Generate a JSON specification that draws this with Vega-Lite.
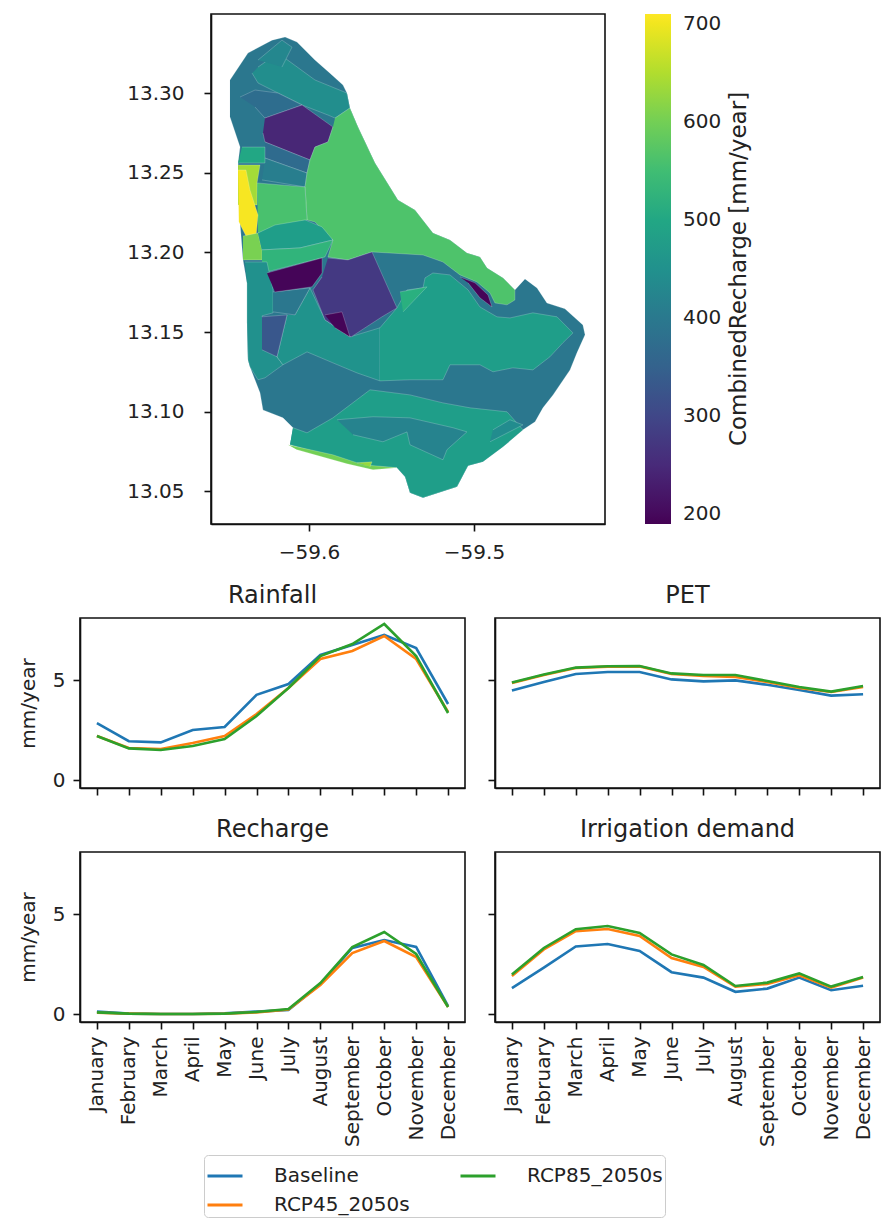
{"$schema":"https://vega.github.io/schema/vega-lite/v6.json","padding":{"left":17,"top":13,"right":0,"bottom":0},"spacing":20,"background":"white",
"config":{"font":"DejaVu Sans","view":{"stroke":"#111","strokeWidth":1.6},"axis":{"grid":false,"domainColor":"#111","domainWidth":1.6,"tickColor":"#111","tickSize":7,"tickWidth":1.6,"labelColor":"#222","titleColor":"#222","labelFontSize":20,"titleFontSize":20,"titleFontWeight":"normal","labelFont":"DejaVu Sans","titleFont":"DejaVu Sans"},"title":{"fontSize":24,"fontWeight":"normal","color":"#222","font":"DejaVu Sans","offset":10}},
"datasets":{"monthly":[
{"p":"Rainfall","s":"Baseline","m":"January","v":2.84},{"p":"Rainfall","s":"Baseline","m":"February","v":1.94},{"p":"Rainfall","s":"Baseline","m":"March","v":1.88},{"p":"Rainfall","s":"Baseline","m":"April","v":2.5},{"p":"Rainfall","s":"Baseline","m":"May","v":2.65},{"p":"Rainfall","s":"Baseline","m":"June","v":4.26},{"p":"Rainfall","s":"Baseline","m":"July","v":4.8},{"p":"Rainfall","s":"Baseline","m":"August","v":6.25},{"p":"Rainfall","s":"Baseline","m":"September","v":6.75},{"p":"Rainfall","s":"Baseline","m":"October","v":7.25},{"p":"Rainfall","s":"Baseline","m":"November","v":6.6},{"p":"Rainfall","s":"Baseline","m":"December","v":3.8},
{"p":"Rainfall","s":"RCP45_2050s","m":"January","v":2.2},{"p":"Rainfall","s":"RCP45_2050s","m":"February","v":1.6},{"p":"Rainfall","s":"RCP45_2050s","m":"March","v":1.55},{"p":"Rainfall","s":"RCP45_2050s","m":"April","v":1.85},{"p":"Rainfall","s":"RCP45_2050s","m":"May","v":2.2},{"p":"Rainfall","s":"RCP45_2050s","m":"June","v":3.3},{"p":"Rainfall","s":"RCP45_2050s","m":"July","v":4.6},{"p":"Rainfall","s":"RCP45_2050s","m":"August","v":6.05},{"p":"Rainfall","s":"RCP45_2050s","m":"September","v":6.45},{"p":"Rainfall","s":"RCP45_2050s","m":"October","v":7.2},{"p":"Rainfall","s":"RCP45_2050s","m":"November","v":6.05},{"p":"Rainfall","s":"RCP45_2050s","m":"December","v":3.4},
{"p":"Rainfall","s":"RCP85_2050s","m":"January","v":2.2},{"p":"Rainfall","s":"RCP85_2050s","m":"February","v":1.58},{"p":"Rainfall","s":"RCP85_2050s","m":"March","v":1.5},{"p":"Rainfall","s":"RCP85_2050s","m":"April","v":1.7},{"p":"Rainfall","s":"RCP85_2050s","m":"May","v":2.05},{"p":"Rainfall","s":"RCP85_2050s","m":"June","v":3.2},{"p":"Rainfall","s":"RCP85_2050s","m":"July","v":4.6},{"p":"Rainfall","s":"RCP85_2050s","m":"August","v":6.2},{"p":"Rainfall","s":"RCP85_2050s","m":"September","v":6.8},{"p":"Rainfall","s":"RCP85_2050s","m":"October","v":7.8},{"p":"Rainfall","s":"RCP85_2050s","m":"November","v":6.2},{"p":"Rainfall","s":"RCP85_2050s","m":"December","v":3.35},
{"p":"PET","s":"Baseline","m":"January","v":4.48},{"p":"PET","s":"Baseline","m":"February","v":4.9},{"p":"PET","s":"Baseline","m":"March","v":5.3},{"p":"PET","s":"Baseline","m":"April","v":5.4},{"p":"PET","s":"Baseline","m":"May","v":5.4},{"p":"PET","s":"Baseline","m":"June","v":5.03},{"p":"PET","s":"Baseline","m":"July","v":4.93},{"p":"PET","s":"Baseline","m":"August","v":4.98},{"p":"PET","s":"Baseline","m":"September","v":4.76},{"p":"PET","s":"Baseline","m":"October","v":4.5},{"p":"PET","s":"Baseline","m":"November","v":4.22},{"p":"PET","s":"Baseline","m":"December","v":4.29},
{"p":"PET","s":"RCP45_2050s","m":"January","v":4.85},{"p":"PET","s":"RCP45_2050s","m":"February","v":5.25},{"p":"PET","s":"RCP45_2050s","m":"March","v":5.6},{"p":"PET","s":"RCP45_2050s","m":"April","v":5.67},{"p":"PET","s":"RCP45_2050s","m":"May","v":5.68},{"p":"PET","s":"RCP45_2050s","m":"June","v":5.3},{"p":"PET","s":"RCP45_2050s","m":"July","v":5.2},{"p":"PET","s":"RCP45_2050s","m":"August","v":5.15},{"p":"PET","s":"RCP45_2050s","m":"September","v":4.9},{"p":"PET","s":"RCP45_2050s","m":"October","v":4.6},{"p":"PET","s":"RCP45_2050s","m":"November","v":4.4},{"p":"PET","s":"RCP45_2050s","m":"December","v":4.65},
{"p":"PET","s":"RCP85_2050s","m":"January","v":4.88},{"p":"PET","s":"RCP85_2050s","m":"February","v":5.28},{"p":"PET","s":"RCP85_2050s","m":"March","v":5.62},{"p":"PET","s":"RCP85_2050s","m":"April","v":5.69},{"p":"PET","s":"RCP85_2050s","m":"May","v":5.7},{"p":"PET","s":"RCP85_2050s","m":"June","v":5.33},{"p":"PET","s":"RCP85_2050s","m":"July","v":5.25},{"p":"PET","s":"RCP85_2050s","m":"August","v":5.25},{"p":"PET","s":"RCP85_2050s","m":"September","v":4.95},{"p":"PET","s":"RCP85_2050s","m":"October","v":4.65},{"p":"PET","s":"RCP85_2050s","m":"November","v":4.42},{"p":"PET","s":"RCP85_2050s","m":"December","v":4.7},
{"p":"Recharge","s":"Baseline","m":"January","v":0.12},{"p":"Recharge","s":"Baseline","m":"February","v":0.02},{"p":"Recharge","s":"Baseline","m":"March","v":0},{"p":"Recharge","s":"Baseline","m":"April","v":0},{"p":"Recharge","s":"Baseline","m":"May","v":0.03},{"p":"Recharge","s":"Baseline","m":"June","v":0.12},{"p":"Recharge","s":"Baseline","m":"July","v":0.2},{"p":"Recharge","s":"Baseline","m":"August","v":1.5},{"p":"Recharge","s":"Baseline","m":"September","v":3.3},{"p":"Recharge","s":"Baseline","m":"October","v":3.7},{"p":"Recharge","s":"Baseline","m":"November","v":3.35},{"p":"Recharge","s":"Baseline","m":"December","v":0.4},
{"p":"Recharge","s":"RCP45_2050s","m":"January","v":0.06},{"p":"Recharge","s":"RCP45_2050s","m":"February","v":0.02},{"p":"Recharge","s":"RCP45_2050s","m":"March","v":0},{"p":"Recharge","s":"RCP45_2050s","m":"April","v":0},{"p":"Recharge","s":"RCP45_2050s","m":"May","v":0.02},{"p":"Recharge","s":"RCP45_2050s","m":"June","v":0.08},{"p":"Recharge","s":"RCP45_2050s","m":"July","v":0.22},{"p":"Recharge","s":"RCP45_2050s","m":"August","v":1.45},{"p":"Recharge","s":"RCP45_2050s","m":"September","v":3.05},{"p":"Recharge","s":"RCP45_2050s","m":"October","v":3.65},{"p":"Recharge","s":"RCP45_2050s","m":"November","v":2.85},{"p":"Recharge","s":"RCP45_2050s","m":"December","v":0.35},
{"p":"Recharge","s":"RCP85_2050s","m":"January","v":0.08},{"p":"Recharge","s":"RCP85_2050s","m":"February","v":0.02},{"p":"Recharge","s":"RCP85_2050s","m":"March","v":0},{"p":"Recharge","s":"RCP85_2050s","m":"April","v":0},{"p":"Recharge","s":"RCP85_2050s","m":"May","v":0.02},{"p":"Recharge","s":"RCP85_2050s","m":"June","v":0.1},{"p":"Recharge","s":"RCP85_2050s","m":"July","v":0.25},{"p":"Recharge","s":"RCP85_2050s","m":"August","v":1.55},{"p":"Recharge","s":"RCP85_2050s","m":"September","v":3.35},{"p":"Recharge","s":"RCP85_2050s","m":"October","v":4.1},{"p":"Recharge","s":"RCP85_2050s","m":"November","v":3},{"p":"Recharge","s":"RCP85_2050s","m":"December","v":0.35},
{"p":"Irrigation","s":"Baseline","m":"January","v":1.29},{"p":"Irrigation","s":"Baseline","m":"February","v":2.32},{"p":"Irrigation","s":"Baseline","m":"March","v":3.38},{"p":"Irrigation","s":"Baseline","m":"April","v":3.5},{"p":"Irrigation","s":"Baseline","m":"May","v":3.15},{"p":"Irrigation","s":"Baseline","m":"June","v":2.09},{"p":"Irrigation","s":"Baseline","m":"July","v":1.82},{"p":"Irrigation","s":"Baseline","m":"August","v":1.11},{"p":"Irrigation","s":"Baseline","m":"September","v":1.27},{"p":"Irrigation","s":"Baseline","m":"October","v":1.82},{"p":"Irrigation","s":"Baseline","m":"November","v":1.19},{"p":"Irrigation","s":"Baseline","m":"December","v":1.41},
{"p":"Irrigation","s":"RCP45_2050s","m":"January","v":1.9},{"p":"Irrigation","s":"RCP45_2050s","m":"February","v":3.23},{"p":"Irrigation","s":"RCP45_2050s","m":"March","v":4.14},{"p":"Irrigation","s":"RCP45_2050s","m":"April","v":4.25},{"p":"Irrigation","s":"RCP45_2050s","m":"May","v":3.9},{"p":"Irrigation","s":"RCP45_2050s","m":"June","v":2.8},{"p":"Irrigation","s":"RCP45_2050s","m":"July","v":2.35},{"p":"Irrigation","s":"RCP45_2050s","m":"August","v":1.37},{"p":"Irrigation","s":"RCP45_2050s","m":"September","v":1.5},{"p":"Irrigation","s":"RCP45_2050s","m":"October","v":1.94},{"p":"Irrigation","s":"RCP45_2050s","m":"November","v":1.32},{"p":"Irrigation","s":"RCP45_2050s","m":"December","v":1.82},
{"p":"Irrigation","s":"RCP85_2050s","m":"January","v":1.98},{"p":"Irrigation","s":"RCP85_2050s","m":"February","v":3.3},{"p":"Irrigation","s":"RCP85_2050s","m":"March","v":4.24},{"p":"Irrigation","s":"RCP85_2050s","m":"April","v":4.4},{"p":"Irrigation","s":"RCP85_2050s","m":"May","v":4.05},{"p":"Irrigation","s":"RCP85_2050s","m":"June","v":2.98},{"p":"Irrigation","s":"RCP85_2050s","m":"July","v":2.45},{"p":"Irrigation","s":"RCP85_2050s","m":"August","v":1.4},{"p":"Irrigation","s":"RCP85_2050s","m":"September","v":1.57},{"p":"Irrigation","s":"RCP85_2050s","m":"October","v":2.03},{"p":"Irrigation","s":"RCP85_2050s","m":"November","v":1.37},{"p":"Irrigation","s":"RCP85_2050s","m":"December","v":1.85}
]},
"vconcat":[
{"spacing":0,"hconcat":[
{"width":45,"height":1,"view":{"stroke":null},"data":{"values":[]},"mark":"point","encoding":{}},
{"width":394,"height":510,
"data":{"values":[
{"id":"base","r":395,"lon":[-59.6479,-59.6370,-59.6224,-59.6145,-59.6073,-59.5964,-59.5873,-59.5794,-59.5770,-59.5752,-59.5703,-59.5600,-59.5461,-59.5358,-59.5249,-59.5146,-59.5043,-59.4964,-59.4921,-59.4824,-59.4752,-59.4691,-59.4618,-59.4558,-59.4449,-59.4340,-59.4327,-59.4376,-59.4418,-59.4521,-59.4582,-59.4630,-59.4703,-59.4824,-59.4946,-59.5036,-59.5103,-59.5309,-59.5388,-59.5418,-59.5467,-59.5673,-59.5855,-59.6115,-59.6097,-59.6158,-59.6279,-59.6297,-59.6358,-59.6370,-59.6376,-59.6376,-59.6400,-59.6418,-59.6430,-59.6430,-59.6418,-59.6479],"lat":[13.3082,13.3251,13.3332,13.3351,13.3320,13.3207,13.3125,13.3050,13.3000,13.2906,13.2787,13.2561,13.2329,13.2266,13.2122,13.2078,13.1997,13.1972,13.1903,13.1840,13.1765,13.1834,13.1777,13.1683,13.1646,13.1545,13.1483,13.1370,13.1263,13.1106,13.1025,13.0937,13.0887,13.0780,13.0686,13.0661,13.0530,13.0461,13.0492,13.0592,13.0649,13.0661,13.0718,13.0793,13.0900,13.0962,13.1012,13.1119,13.1282,13.1326,13.1558,13.1809,13.1953,13.2185,13.2392,13.2561,13.2661,13.2850]},
{"id":"ne","r":445,"lon":[-59.6309,-59.6188,-59.5964,-59.5770,-59.5752,-59.5842,-59.5885,-59.6042,-59.6188,-59.6309,-59.6345],"lat":[13.3163,13.3251,13.3082,13.3000,13.2906,13.2843,13.2862,13.2925,13.3000,13.3063,13.3125]},
{"id":"top","r":430,"lon":[-59.6309,-59.6164,-59.6103,-59.6164],"lat":[13.3207,13.3332,13.3288,13.3163]},
{"id":"nw","r":375,"lon":[-59.6418,-59.6327,-59.6188,-59.6042,-59.6267,-59.6327],"lat":[13.2975,13.3019,13.3000,13.2925,13.2843,13.2912]},
{"id":"north_purple","r":245,"lon":[-59.6267,-59.6042,-59.5855,-59.5885,-59.5964,-59.5994,-59.6267,-59.6279],"lat":[13.2843,13.2925,13.2787,13.2693,13.2661,13.2580,13.2693,13.2749]},
{"id":"b1","r":370,"lon":[-59.6267,-59.5994,-59.6012,-59.6267],"lat":[13.2693,13.2580,13.2498,13.2592]},
{"id":"b2","r":410,"lon":[-59.6267,-59.6012,-59.6024,-59.6285],"lat":[13.2592,13.2498,13.2411,13.2455]},
{"id":"block","r":500,"lon":[-59.6406,-59.6267,-59.6267,-59.6430],"lat":[13.2661,13.2661,13.2561,13.2561]},
{"id":"biggreen","r":565,"lon":[-59.5842,-59.5752,-59.5703,-59.5600,-59.5461,-59.5358,-59.5249,-59.5146,-59.5043,-59.4964,-59.4921,-59.4824,-59.4752,-59.4752,-59.4800,-59.4873,-59.4903,-59.4982,-59.5085,-59.5188,-59.5309,-59.5618,-59.5764,-59.5885,-59.5855,-59.5964,-59.6012,-59.6024,-59.6012,-59.5994,-59.5964,-59.5885,-59.5855],"lat":[13.2843,13.2906,13.2787,13.2561,13.2329,13.2266,13.2122,13.2078,13.1997,13.1972,13.1903,13.1840,13.1765,13.1702,13.1671,13.1683,13.1746,13.1815,13.1859,13.1940,13.1984,13.2003,13.1953,13.1972,13.2078,13.2191,13.2204,13.2411,13.2498,13.2580,13.2661,13.2693,13.2787]},
{"id":"greenw","r":560,"lon":[-59.6315,-59.6024,-59.6012,-59.6309],"lat":[13.2436,13.2411,13.2204,13.2122]},
{"id":"yg","r":640,"lon":[-59.6430,-59.6297,-59.6315,-59.6315,-59.6430],"lat":[13.2549,13.2549,13.2436,13.2298,13.2298]},
{"id":"yellow","r":705,"lon":[-59.6430,-59.6382,-59.6358,-59.6309,-59.6321,-59.6382,-59.6425],"lat":[13.2517,13.2517,13.2392,13.2235,13.2103,13.2103,13.2191]},
{"id":"g2","r":605,"lon":[-59.6400,-59.6309,-59.6285,-59.6285,-59.6400],"lat":[13.2103,13.2122,13.2016,13.1953,13.1953]},
{"id":"tu","r":480,"lon":[-59.6309,-59.6206,-59.6024,-59.5921,-59.5855,-59.6055,-59.6285],"lat":[13.2122,13.2172,13.2204,13.2160,13.2078,13.2028,13.2016]},
{"id":"tl","r":530,"lon":[-59.6285,-59.6055,-59.5855,-59.5903,-59.6115,-59.6255,-59.6285],"lat":[13.2016,13.2028,13.2078,13.1972,13.1915,13.1878,13.1940]},
{"id":"wt","r":450,"lon":[-59.6388,-59.6255,-59.6218,-59.6218,-59.6285,-59.6194,-59.6158,-59.6267,-59.6309,-59.6358,-59.6370,-59.6376,-59.6376],"lat":[13.1940,13.1940,13.1765,13.1621,13.1602,13.1345,13.1295,13.1213,13.1201,13.1282,13.1326,13.1558,13.1809]},
{"id":"cw","r":455,"lon":[-59.6085,-59.5994,-59.5903,-59.5752,-59.5570,-59.5570,-59.5709,-59.5855,-59.6012,-59.6158,-59.6194,-59.6133],"lat":[13.1608,13.1777,13.1577,13.1470,13.1527,13.1194,13.1244,13.1307,13.1376,13.1295,13.1345,13.1608]},
{"id":"ce","r":480,"lon":[-59.5570,-59.5467,-59.5406,-59.5309,-59.5297,-59.5249,-59.5146,-59.5036,-59.4964,-59.4861,-59.4782,-59.4643,-59.4497,-59.4400,-59.4461,-59.4540,-59.4643,-59.4764,-59.4885,-59.4964,-59.5146,-59.5188,-59.5388,-59.5570],"lat":[13.1527,13.1652,13.1765,13.1777,13.1840,13.1871,13.1859,13.1765,13.1658,13.1596,13.1589,13.1621,13.1596,13.1495,13.1433,13.1345,13.1263,13.1276,13.1251,13.1295,13.1295,13.1201,13.1201,13.1194]},
{"id":"sl","r":520,"lon":[-59.5449,-59.5285,-59.5430],"lat":[13.1752,13.1784,13.1627]},
{"id":"sq","r":395,"lon":[-59.6218,-59.5994,-59.6085,-59.6218],"lat":[13.1752,13.1777,13.1608,13.1627]},
{"id":"pb","r":330,"lon":[-59.6285,-59.6133,-59.6194,-59.6285],"lat":[13.1596,13.1608,13.1345,13.1389]},
{"id":"dark1","r":195,"lon":[-59.6255,-59.5921,-59.5921,-59.5982,-59.6206],"lat":[13.1871,13.1965,13.1871,13.1784,13.1752]},
{"id":"purple","r":275,"lon":[-59.5885,-59.5764,-59.5618,-59.5467,-59.5558,-59.5745,-59.5903,-59.5976,-59.5921],"lat":[13.1965,13.1953,13.2003,13.1652,13.1596,13.1470,13.1577,13.1765,13.1846]},
{"id":"dark2","r":195,"lon":[-59.5903,-59.5800,-59.5752,-59.5842],"lat":[13.1608,13.1627,13.1470,13.1527]},
{"id":"dark3","r":195,"lon":[-59.5085,-59.4994,-59.4915,-59.4891,-59.4964,-59.5036],"lat":[13.1846,13.1809,13.1733,13.1658,13.1715,13.1809]},
{"id":"south","r":480,"lon":[-59.6097,-59.6012,-59.5855,-59.5630,-59.5388,-59.5188,-59.5024,-59.4800,-59.4703,-59.4824,-59.4946,-59.5036,-59.5103,-59.5309,-59.5388,-59.5418,-59.5467,-59.5673,-59.5855,-59.6115],"lat":[13.0900,13.0868,13.0962,13.1138,13.1106,13.1056,13.1025,13.1000,13.0887,13.0780,13.0686,13.0661,13.0530,13.0461,13.0492,13.0592,13.0649,13.0661,13.0718,13.0793]},
{"id":"si","r":420,"lon":[-59.5830,-59.5612,-59.5388,-59.5127,-59.5043,-59.5164,-59.5188,-59.5388,-59.5406,-59.5552,-59.5733],"lat":[13.0950,13.0969,13.0962,13.0900,13.0874,13.0762,13.0699,13.0793,13.0874,13.0812,13.0856]},
{"id":"ss","r":440,"lon":[-59.4885,-59.4782,-59.4703,-59.4903],"lat":[13.0887,13.0950,13.0918,13.0812]},
{"id":"coast","r":600,"lon":[-59.6127,-59.5855,-59.5673,-59.5467,-59.5612,-59.5770,-59.6073],"lat":[13.0793,13.0730,13.0668,13.0649,13.0636,13.0674,13.0762]},
{"id":"coast2","r":630,"lon":[-59.5709,-59.5618,-59.5630],"lat":[13.0680,13.0686,13.0655]}
]},
"transform":[{"flatten":["lon","lat"]}],
"mark":{"type":"line","stroke":"#ffffff","strokeOpacity":0.3,"strokeWidth":0.7,"clip":true},
"encoding":{
"x":{"field":"lon","type":"quantitative","scale":{"domain":[-59.6594,-59.4206],"nice":false,"zero":false},"axis":{"values":[-59.6,-59.5],"format":".1f","title":null,"labelPadding":11}},
"y":{"field":"lat","type":"quantitative","scale":{"domain":[13.0296,13.3496],"nice":false,"zero":false},"axis":{"values":[13.05,13.1,13.15,13.2,13.25,13.3],"format":".2f","title":null,"labelPadding":20}},
"detail":{"field":"id"},
"order":{"value":null},
"fill":{"field":"r","type":"quantitative","scale":{"scheme":"viridis","domain":[190,710],"nice":false,"zero":false},"legend":{"title":"CombinedRecharge [mm/year]","orient":"none","legendX":565,"legendY":0,"values":[200,300,400,500,600,700],"gradientThickness":26,"gradientLength":510,"labelOffset":12,"labelFontSize":20,"titleFontSize":23,"titleFontWeight":"normal","titleOrient":"right","titleLimit":500,"titleAnchor":"middle","titlePadding":30,"labelColor":"#222","titleColor":"#222","labelOverlap":false,"encoding":{"title":{"angle":{"value":270}}}}}
}}
]},
{"spacing":20,"hconcat":[
{"title":"Rainfall","width":385,"height":170,"data":{"name":"monthly"},"transform":[{"filter":"datum.p==='Rainfall'"}],"mark":{"type":"line","strokeWidth":2.6},
"encoding":{"x":{"field":"m","type":"ordinal","scale":{"type":"point","padding":0.53,"domain":["January","February","March","April","May","June","July","August","September","October","November","December"]},"axis":{"labels":false,"title":null}},"y":{"field":"v","type":"quantitative","scale":{"domain":[-0.4,8.1],"nice":false,"zero":false},"axis":{"values":[0,5],"title":"mm/year","titlePadding":14,"labelPadding":8}},"color":{"field":"s","type":"nominal","scale":{"domain":["Baseline","RCP45_2050s","RCP85_2050s"],"range":["#1f77b4","#ff7f0e","#2ca02c"]}}}},
{"title":"PET","width":385,"height":170,"data":{"name":"monthly"},"transform":[{"filter":"datum.p==='PET'"}],"mark":{"type":"line","strokeWidth":2.6},
"encoding":{"x":{"field":"m","type":"ordinal","scale":{"type":"point","padding":0.53,"domain":["January","February","March","April","May","June","July","August","September","October","November","December"]},"axis":{"labels":false,"title":null}},"y":{"field":"v","type":"quantitative","scale":{"domain":[-0.4,8.1],"nice":false,"zero":false},"axis":{"values":[0,5],"labels":false,"title":null}},"color":{"field":"s","type":"nominal"}}}
]},
{"spacing":20,"hconcat":[
{"title":"Recharge","width":385,"height":170,"data":{"name":"monthly"},"transform":[{"filter":"datum.p==='Recharge'"}],"mark":{"type":"line","strokeWidth":2.6},
"encoding":{"x":{"field":"m","type":"ordinal","scale":{"type":"point","padding":0.53,"domain":["January","February","March","April","May","June","July","August","September","October","November","December"]},"axis":{"labelAngle":-90,"title":null,"labelOverlap":false,"labelPadding":7}},"y":{"field":"v","type":"quantitative","scale":{"domain":[-0.4,8.1],"nice":false,"zero":false},"axis":{"values":[0,5],"title":"mm/year","titlePadding":14,"labelPadding":8}},"color":{"field":"s","type":"nominal","legend":{"title":null,"orient":"none","legendX":124,"legendY":1141,"direction":"vertical","columns":2,"symbolType":"stroke","symbolSize":1225,"symbolStrokeWidth":2.8,"labelFontSize":20,"labelColor":"#222","fillColor":"white","strokeColor":"#ccc","cornerRadius":4,"padding":2,"rowPadding":0,"columnPadding":44,"labelOffset":30,"labelLimit":300}}}},
{"title":"Irrigation demand","width":385,"height":170,"data":{"name":"monthly"},"transform":[{"filter":"datum.p==='Irrigation'"}],"mark":{"type":"line","strokeWidth":2.6},
"encoding":{"x":{"field":"m","type":"ordinal","scale":{"type":"point","padding":0.53,"domain":["January","February","March","April","May","June","July","August","September","October","November","December"]},"axis":{"labelAngle":-90,"title":null,"labelOverlap":false,"labelPadding":7}},"y":{"field":"v","type":"quantitative","scale":{"domain":[-0.4,8.1],"nice":false,"zero":false},"axis":{"values":[0,5],"labels":false,"title":null}},"color":{"field":"s","type":"nominal"}}}
]}
]}
